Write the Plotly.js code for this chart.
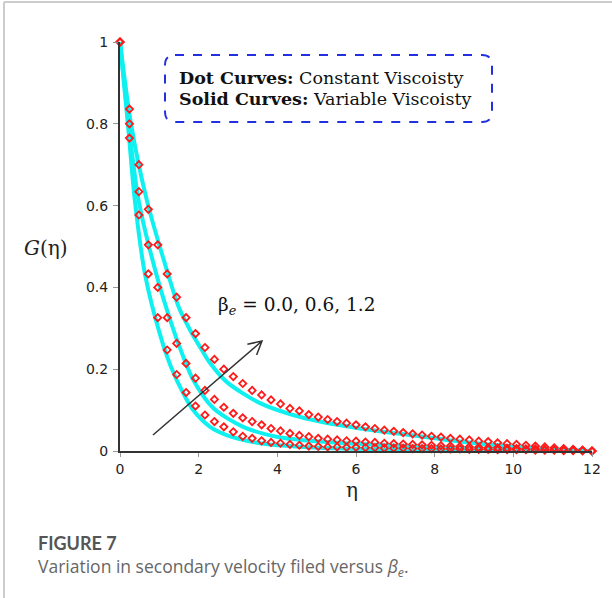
<!DOCTYPE html>
<html>
<head>
<meta charset="utf-8">
<script src="https://cdn.plot.ly/plotly-3.0.1.min.js"></script>
<style>html,body{margin:0;padding:0;background:#fff;}#chart{width:612px;height:598px;}</style>
</head>
<body>
<div id="chart"></div>
<script>
// Dot curves (constant viscosity): eta sampled every 0.24
const etaDots = [0,0.24,0.48,0.72,0.96,1.20,1.44,1.68,1.92,2.16,2.40,2.64,2.88,3.12,3.36,3.60,3.84,4.08,4.32,4.56,4.80,5.04,5.28,5.52,5.76,6.00,6.24,6.48,6.72,6.96,7.20,7.44,7.68,7.92,8.16,8.40,8.64,8.88,9.12,9.36,9.60,9.84,10.08,10.32,10.56,10.80,11.04,11.28,11.52,11.76,12.00];
const dotBe00 = [1,0.765,0.577,0.433,0.326,0.247,0.187,0.143,0.110,0.088,0.072,0.059,0.047,0.036,0.031,0.025,0.021,0.019,0.016,0.014,0.012,0.011,0.010,0.010,0.009,0.009,0.008,0.008,0.007,0.007,0.007,0.006,0.006,0.006,0.005,0.005,0.005,0.004,0.004,0.004,0.003,0.003,0.003,0.003,0.002,0.002,0.002,0.001,0.001,0.001,0];
const dotBe06 = [1,0.80,0.634,0.504,0.40,0.326,0.263,0.214,0.178,0.148,0.126,0.107,0.092,0.081,0.072,0.064,0.055,0.049,0.043,0.038,0.035,0.031,0.029,0.027,0.025,0.024,0.022,0.021,0.019,0.018,0.017,0.016,0.015,0.014,0.013,0.012,0.011,0.010,0.009,0.008,0.008,0.007,0.006,0.005,0.005,0.004,0.003,0.002,0.002,0.001,0];
const dotBe12 = [1,0.836,0.70,0.591,0.504,0.433,0.376,0.326,0.287,0.253,0.224,0.200,0.182,0.165,0.148,0.137,0.125,0.115,0.104,0.098,0.089,0.083,0.077,0.072,0.068,0.064,0.059,0.055,0.051,0.048,0.045,0.042,0.039,0.036,0.034,0.031,0.029,0.027,0.024,0.023,0.020,0.018,0.016,0.014,0.012,0.010,0.008,0.006,0.004,0.002,0];

// Solid curves (variable viscosity)
const etaS00 = [0,0.2,0.38,0.64,1.02,1.3,1.61,1.86,2.29,2.71,3.56,5.08,7,9,12];
const solidBe00 = [1,0.8,0.61,0.43,0.284,0.205,0.141,0.10,0.059,0.039,0.019,0.008,0.004,0.002,0];
const etaS06 = [0,0.22,0.47,0.93,1.36,1.57,1.86,2.37,3.13,3.98,5.08,6.5,8.64,10.5,12];
const solidBe06 = [1,0.8,0.614,0.43,0.296,0.24,0.174,0.105,0.059,0.035,0.023,0.015,0.007,0.003,0];
const etaS12 = [0,0.28,0.68,1.23,1.5,1.78,2.08,2.29,2.71,3.56,4.40,5.08,6.10,7.37,8.64,9.92,11,12];
const solidBe12 = [1,0.8,0.614,0.43,0.35,0.296,0.247,0.215,0.169,0.117,0.088,0.072,0.055,0.039,0.023,0.011,0.004,0];

const xTicks = [0,2,4,6,8,10,12];
const yTicks = [0,0.2,0.4,0.6,0.8,1];
const yTickText = ['0','0.2','0.4','0.6','0.8','1'];

const cyan = '#0ff0f0';
const red = '#ff1a1a';

function solid(x, y){
  return {x:x, y:y, type:'scatter', mode:'lines', line:{color:cyan, width:4, shape:'spline', smoothing:0.8}, cliponaxis:false, hoverinfo:'skip'};
}
function dots(y){
  return {x:etaDots, y:y, type:'scatter', mode:'markers', marker:{symbol:'diamond-open', size:5.5, color:red, line:{color:red, width:1.8}}, cliponaxis:false};
}

const data = [solid(etaS00, solidBe00), solid(etaS06, solidBe06), solid(etaS12, solidBe12), dots(dotBe00), dots(dotBe06), dots(dotBe12)];

// pixel -> paper helpers for decorations
const px = p => (p-120)/472;
const py = p => (451-p)/409;

const bl = px(165), br = px(492), bt = py(55), bb = py(122), rx = 10/472, ry = 10/409;
const boxPath = `M ${bl+rx},${bt} L ${br-rx},${bt} Q ${br},${bt} ${br},${bt-ry} L ${br},${bb+ry} Q ${br},${bb} ${br-rx},${bb} L ${bl+rx},${bb} Q ${bl},${bb} ${bl},${bb+ry} L ${bl},${bt-ry} Q ${bl},${bt} ${bl+rx},${bt} Z`;
const arrowPath = `M ${px(153)},${py(435)} L ${px(262)},${py(341)} M ${px(247.4)},${py(344.3)} L ${px(262)},${py(341)} L ${px(256.6)},${py(355)}`;

const layout = {
  width:612, height:598,
  margin:{l:120, r:20, t:42, b:147},
  paper_bgcolor:'#fff', plot_bgcolor:'#fff',
  showlegend:false,
  xaxis:{range:[0,12], tickvals:xTicks, ticks:'outside', ticklen:4, tickcolor:'#999', showgrid:false, zeroline:false,
    showline:true, linecolor:'#333', linewidth:2, tickfont:{family:'DejaVu Sans', size:14, color:'#222'}},
  yaxis:{range:[0,1], tickvals:yTicks, ticktext:yTickText, ticks:'outside', ticklen:5, tickcolor:'#999', showgrid:false, zeroline:false,
    showline:true, linecolor:'#333', linewidth:2, ticklabelstandoff:2, tickfont:{family:'DejaVu Sans', size:14, color:'#222'}},
  shapes:[
    {type:'path', xref:'paper', yref:'paper', path:boxPath, line:{color:'#2230e0', width:2, dash:'dash'}},
    {type:'path', xref:'paper', yref:'paper', path:arrowPath, line:{color:'#333', width:1.5}},
    {type:'line', xref:'paper', yref:'paper', x0:px(4), x1:px(612), y0:py(2), y1:py(2), line:{color:'#cccccc', width:2}},
    {type:'line', xref:'paper', yref:'paper', x0:px(4), x1:px(4), y0:py(2), y1:py(598), line:{color:'#cccccc', width:2}}
  ],
  annotations:[
    {xref:'paper', yref:'paper', x:px(177), y:py(78), xanchor:'left', yanchor:'middle', showarrow:false,
     text:'<b>Dot Curves:</b> Constant Viscoisty', font:{family:'DejaVu Serif', size:17.5, color:'#111'}},
    {xref:'paper', yref:'paper', x:px(177), y:py(99), xanchor:'left', yanchor:'middle', showarrow:false,
     text:'<b>Solid Curves:</b> Variable Viscoisty', font:{family:'DejaVu Serif', size:17.5, color:'#111'}},
    {xref:'paper', yref:'paper', x:px(216), y:py(306), xanchor:'left', yanchor:'middle', showarrow:false,
     text:'β<sub><i>e</i></sub> = 0.0, 0.6, 1.2', font:{family:'DejaVu Serif', size:18.5, color:'#111'}},
    {xref:'paper', yref:'paper', x:px(46), y:py(248), xanchor:'center', yanchor:'middle', showarrow:false,
     text:'<i>G</i>(η)', font:{family:'DejaVu Serif', size:20, color:'#222'}},
    {xref:'paper', yref:'paper', x:px(352), y:py(490), xanchor:'center', yanchor:'middle', showarrow:false,
     text:'η', font:{family:'DejaVu Serif', size:20, color:'#222'}},
    {xref:'paper', yref:'paper', x:px(36), y:py(543), xanchor:'left', yanchor:'middle', showarrow:false,
     text:'<b>FIGURE 7</b>', font:{family:'Lato', size:18, color:'#555'}},
    {xref:'paper', yref:'paper', x:px(36), y:py(567), xanchor:'left', yanchor:'middle', showarrow:false,
     text:'Variation in secondary velocity filed versus <i>β</i><sub><i>e</i></sub>.', font:{family:'Open Sans', size:17.5, color:'#666'}}
  ]
};

Plotly.newPlot('chart', data, layout, {displayModeBar:false, staticPlot:true});
</script>
</body>
</html>
